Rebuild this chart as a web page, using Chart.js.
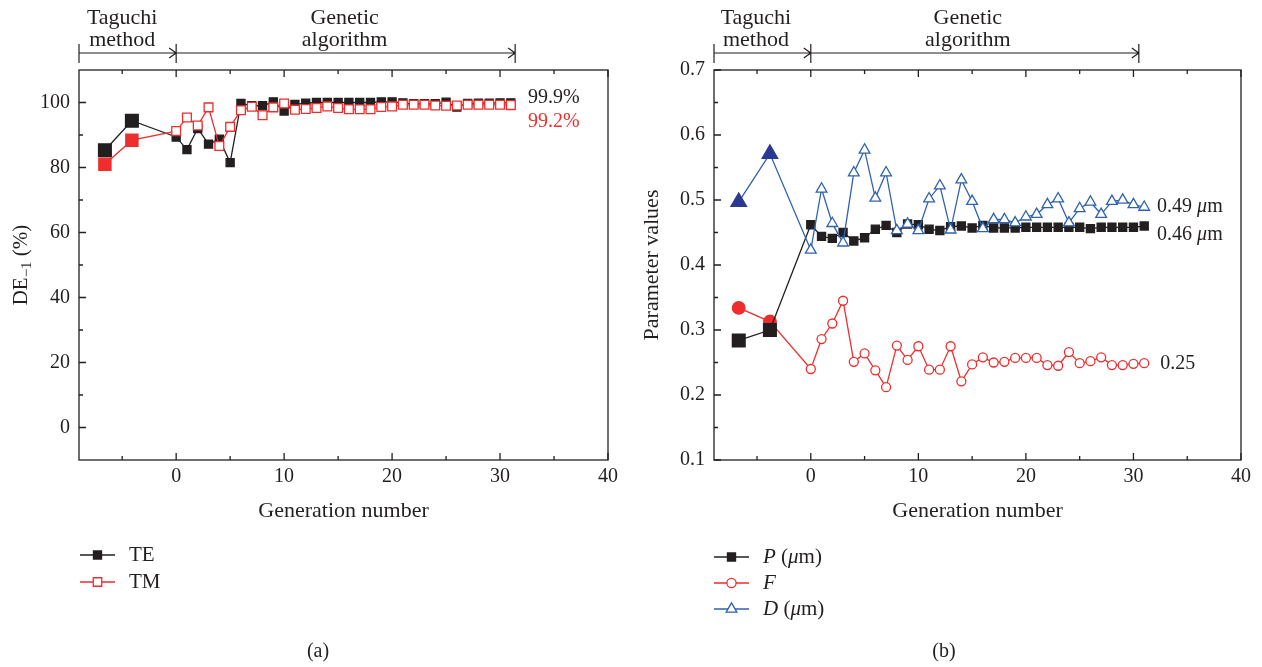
<!DOCTYPE html>
<html><head><meta charset="utf-8">
<script src="https://cdn.jsdelivr.net/npm/chart.js@4.4.1/dist/chart.umd.min.js"></script>
<style>
html,body{margin:0;padding:0;background:#fff;}
#wrap{position:relative;width:1262px;height:667px;overflow:hidden;}
canvas{position:absolute;top:0;}
#c1{left:0;} #c2{left:631px;}
</style></head><body>
<div id="wrap"><canvas id="c1" width="631" height="667"></canvas><canvas id="c2" width="631" height="667"></canvas></div>
<script>
// ---------- data ----------
const taguchiGenA = [-6.6, -4.1];
const taguchiGenB = [-6.7, -3.8];
const generations = [0,1,2,3,4,5,6,7,8,9,10,11,12,13,14,15,16,17,18,19,20,21,22,23,24,25,26,27,28,29,30,31];
const teValues = [85.3, 94.4, 89.4, 85.5, 92.0, 87.2, 88.7, 81.5, 99.7, 99.0, 99.0, 100.2, 97.4, 99.4, 99.8, 100.0, 100.0, 100.0, 100.0, 100.0, 100.0, 100.2, 100.2, 99.9, 99.6, 99.6, 99.6, 100.1, 98.6, 99.7, 99.8, 99.8, 99.9, 99.9];
const tmValues = [81.0, 88.4, 91.2, 95.4, 92.9, 98.5, 86.6, 92.5, 97.6, 98.7, 96.1, 98.5, 99.7, 97.8, 98.0, 98.3, 98.8, 98.3, 97.9, 97.9, 97.9, 98.6, 98.8, 99.3, 99.3, 99.3, 99.1, 99.0, 99.1, 99.3, 99.3, 99.3, 99.3, 99.2];
const pValues = [0.284, 0.300, 0.462, 0.444, 0.441, 0.450, 0.437, 0.442, 0.455, 0.461, 0.450, 0.463, 0.462, 0.455, 0.453, 0.459, 0.460, 0.457, 0.461, 0.457, 0.457, 0.457, 0.458, 0.458, 0.458, 0.458, 0.458, 0.458, 0.456, 0.458, 0.458, 0.458, 0.458, 0.460];
const fValues = [0.334, 0.313, 0.240, 0.286, 0.310, 0.345, 0.251, 0.264, 0.238, 0.212, 0.276, 0.254, 0.275, 0.239, 0.239, 0.275, 0.221, 0.247, 0.258, 0.250, 0.251, 0.257, 0.257, 0.257, 0.246, 0.245, 0.266, 0.249, 0.252, 0.258, 0.246, 0.246, 0.248, 0.249];
const dValues = [0.497, 0.571, 0.423, 0.517, 0.464, 0.434, 0.542, 0.577, 0.503, 0.542, 0.453, 0.463, 0.453, 0.502, 0.522, 0.454, 0.531, 0.498, 0.456, 0.470, 0.470, 0.465, 0.474, 0.478, 0.493, 0.502, 0.465, 0.487, 0.497, 0.478, 0.498, 0.500, 0.493, 0.489];
const xTickValues = [0, 10, 20, 30, 40];
const xMinorTicks = [-5, 5, 15, 25, 35];
const yTickValuesA = [0, 20, 40, 60, 80, 100];
const yMinorTicksA = [10, 30, 50, 70, 90];
const yTickValuesB = [0.1, 0.2, 0.3, 0.4, 0.5, 0.6, 0.7];
const yMinorTicksB = [0.15, 0.25, 0.35, 0.45, 0.55, 0.65];

// ---------- style ----------
const INK = '#231f20', RED = '#ee2d2d', BLUE = '#2f62b0', NAVY = '#2b3990';
const FONT = '"Liberation Serif", "DejaVu Serif", serif';
const DECO = {};

function pts(xs, ys){ return ys.map((v,i)=>({x: xs[i], y: v})); }

function marker(ctx, style, x, y, r, fill, stroke, lw){
  ctx.save(); ctx.fillStyle = fill; ctx.strokeStyle = stroke; ctx.lineWidth = lw;
  ctx.beginPath();
  if (style === 'rect'){ const s = r*Math.SQRT1_2; ctx.rect(x-s, y-s, 2*s, 2*s); }
  else if (style === 'circle'){ ctx.arc(x, y, r, 0, Math.PI*2); }
  else if (style === 'triangle'){
    for (let k=0;k<3;k++){ const a = k*2*Math.PI/3; const px = x + Math.sin(a)*r, py = y - Math.cos(a)*r; k?ctx.lineTo(px,py):ctx.moveTo(px,py); }
    ctx.closePath();
  }
  ctx.fill(); if (lw>0) ctx.stroke();
  ctx.restore();
}

function runs(ctx, parts, x, y, size){
  let cx = x;
  parts.forEach(([t, it]) => {
    ctx.font = (it ? 'italic ' : '') + size + 'px ' + FONT;
    ctx.fillText(t, cx, y);
    cx += ctx.measureText(t).width;
  });
}

const decoPlugin = {
  id: 'deco',
  beforeDatasetsDraw(chart){
    const cfg = DECO[chart.canvas.id]; if (!cfg) return;
    const {ctx, chartArea: a} = chart; const xs = chart.scales.x, ys = chart.scales.y;
    ctx.save(); ctx.strokeStyle = INK; ctx.lineWidth = 1.3;
    ctx.strokeRect(a.left, a.top, a.right - a.left, a.bottom - a.top);
    ctx.beginPath();
    const tick = (vals, len) => vals.forEach(v => { const p = xs.getPixelForValue(v);
      ctx.moveTo(p, a.bottom); ctx.lineTo(p, a.bottom - len); ctx.moveTo(p, a.top); ctx.lineTo(p, a.top + len); });
    tick(xTickValues, 7); tick(xMinorTicks, 4);
    const ytick = (vals, len) => vals.forEach(v => { const p = ys.getPixelForValue(v); ctx.moveTo(a.left, p); ctx.lineTo(a.left + len, p); });
    ytick(cfg.yMajor, 7); ytick(cfg.yMinor, 4);
    ctx.stroke(); ctx.restore();
  },
  afterDraw(chart){
    const cfg = DECO[chart.canvas.id]; if (!cfg) return;
    const {ctx, chartArea: a} = chart; const xs = chart.scales.x, ys = chart.scales.y;
    ctx.save();
    ctx.fillStyle = INK; ctx.strokeStyle = INK; ctx.textBaseline = 'middle';
    ctx.font = '22px ' + FONT; ctx.textAlign = 'center';
    const tx = xs.getPixelForValue(cfg.taguchiCenter), gx = xs.getPixelForValue(cfg.geneticCenter);
    ctx.fillText('Taguchi', tx, 18); ctx.fillText('method', tx, 40);
    ctx.fillText('Genetic', gx, 18); ctx.fillText('algorithm', gx, 40);
    const ay = 53; ctx.lineWidth = 1.2; ctx.beginPath();
    cfg.arrowStops.forEach(v => { const p = xs.getPixelForValue(v); ctx.moveTo(p, ay - 9); ctx.lineTo(p, ay + 10); });
    const p0 = xs.getPixelForValue(cfg.arrowStops[0]);
    const pN = xs.getPixelForValue(cfg.arrowStops[cfg.arrowStops.length - 1]);
    ctx.moveTo(p0, ay); ctx.lineTo(pN, ay);
    cfg.arrowStops.slice(1).forEach(v => { const p = xs.getPixelForValue(v); ctx.moveTo(p - 7, ay - 5); ctx.lineTo(p, ay); ctx.lineTo(p - 7, ay + 5); });
    ctx.stroke();
    ctx.font = '22px ' + FONT; ctx.textAlign = 'center';
    ctx.fillText('Generation number', (a.left + a.right) / 2, 511);
    ctx.save(); ctx.translate(21, (a.top + a.bottom) / 2); ctx.rotate(-Math.PI / 2);
    if (cfg.yTitleSub){
      ctx.font = '21px ' + FONT;
      const w1 = ctx.measureText('DE').width; ctx.font = '15px ' + FONT; const w2 = ctx.measureText('\u22121').width;
      ctx.font = '21px ' + FONT; const w3 = ctx.measureText(' (%)').width;
      let sx = -(w1 + w2 + w3) / 2; ctx.textAlign = 'left';
      ctx.fillText('DE', sx, 0); sx += w1;
      ctx.font = '15px ' + FONT; ctx.fillText('\u22121', sx, 6); sx += w2;
      ctx.font = '21px ' + FONT; ctx.fillText(' (%)', sx, 0);
    } else {
      ctx.font = '22px ' + FONT; ctx.textAlign = 'center'; ctx.fillText(cfg.yTitle, 0, 0);
    }
    ctx.restore();
    ctx.textAlign = 'left';
    cfg.endLabels.forEach(l => {
      ctx.fillStyle = l.color;
      runs(ctx, l.parts, xs.getPixelForValue(l.x), ys.getPixelForValue(l.y), 20);
    });
    const ds = chart.data.datasets;
    cfg.legend.forEach((item, i) => {
      const d = ds[item.ds]; const y = cfg.legendY[i]; const lx = cfg.legendX;
      ctx.strokeStyle = d.borderColor; ctx.lineWidth = 1.3;
      ctx.beginPath(); ctx.moveTo(lx, y); ctx.lineTo(lx + 35, y); ctx.stroke();
      marker(ctx, d.pointStyle, lx + 17.5, y, item.r, item.fill, d.borderColor, 1.3);
      ctx.fillStyle = INK; ctx.textAlign = 'left';
      runs(ctx, item.parts, lx + 49, y, 21);
    });
    ctx.fillStyle = INK; ctx.textAlign = 'center'; ctx.font = '20px ' + FONT;
    ctx.fillText(cfg.panel, cfg.panelX, 652);
    ctx.restore();
  }
};

function makeChart(id, datasets, yMin, yMax, yTicks, yFmt, yWidth, padRight, deco){
  DECO[id] = deco;
  return new Chart(document.getElementById(id), {
    type: 'scatter',
    data: { datasets },
    options: {
      responsive: false, animation: false, devicePixelRatio: 1,
      layout: { padding: { top: 70, left: 0, right: padRight, bottom: 147 } },
      plugins: { legend: { display: false }, tooltip: { enabled: false } },
      elements: { line: { tension: 0, borderWidth: 1.3 } },
      scales: {
        x: { type: 'linear', min: -9, max: 40,
             grid: { display: false, drawTicks: false }, border: { display: false },
             ticks: { color: INK, font: { family: FONT, size: 20 }, padding: 5, maxRotation: 0, autoSkip: false },
             afterBuildTicks: s => { s.ticks = xTickValues.map(v => ({ value: v })); },
             afterFit: s => { s.height = 60; } },
        y: { type: 'linear', min: yMin, max: yMax,
             grid: { display: false, drawTicks: false }, border: { display: false },
             ticks: { color: INK, font: { family: FONT, size: 20 }, padding: 9, autoSkip: false, callback: yFmt },
             afterBuildTicks: s => { s.ticks = yTicks.map(v => ({ value: v })); },
             afterFit: s => { s.width = yWidth; } }
      }
    },
    plugins: [decoPlugin]
  });
}

function series(xs, ys, color, style, rBig, rSmall, bigFill, smallFill, order){
  return {
    data: pts(xs, ys), showLine: true, borderColor: color, borderWidth: 1.3, order,
    pointStyle: style,
    pointRadius: c => c.dataIndex < 2 ? rBig : rSmall,
    pointBackgroundColor: c => c.dataIndex < 2 ? bigFill : smallFill,
    pointBorderColor: c => c.dataIndex < 2 ? bigFill : color,
    pointBorderWidth: 1.3
  };
}

const xA = taguchiGenA.concat(generations);
const xB = taguchiGenB.concat(generations);

const cfgA = {
  yMajor: yTickValuesA, yMinor: yMinorTicksA, taguchiCenter: -5.0, geneticCenter: 15.6, arrowStops: [-9, 0, 31.4],
  yTitleSub: true,
  endLabels: [ { x: 32.6, y: 101.5, color: INK, parts: [['99.9%', false]] },
               { x: 32.6, y: 94.2, color: RED, parts: [['99.2%', false]] } ],
  legendX: 80, legendY: [555, 582],
  legend: [ { ds: 0, r: 5.7, fill: INK, parts: [['TE', false]] }, { ds: 1, r: 6, fill: '#fff', parts: [['TM', false]] } ],
  panel: '(a)', panelX: 318
};
makeChart('c1', [
  series(xA, teValues, INK, 'rect', 9, 5.7, INK, INK, 1),
  series(xA, tmValues, RED, 'rect', 8.6, 6.2, RED, '#fff', 0)
], -10, 110, yTickValuesA, v => String(v), 79, 23, cfgA);

const cfgB = {
  yMajor: yTickValuesB, yMinor: yMinorTicksB, taguchiCenter: -5.1, geneticCenter: 14.6, arrowStops: [-9, 0, 30.5],
  yTitleSub: false, yTitle: 'Parameter values',
  endLabels: [ { x: 32.2, y: 0.489, color: INK, parts: [['0.49 ', false], ['\u03bc', true], ['m', false]] },
               { x: 32.2, y: 0.447, color: INK, parts: [['0.46 ', false], ['\u03bc', true], ['m', false]] },
               { x: 32.5, y: 0.248, color: INK, parts: [['0.25', false]] } ],
  legendX: 714 - 631, legendY: [557, 583, 609],
  legend: [ { ds: 0, r: 5.7, fill: INK, parts: [['P', true], [' (', false], ['\u03bc', true], ['m)', false]] },
            { ds: 1, r: 4.6, fill: '#fff', parts: [['F', true]] },
            { ds: 2, r: 6.2, fill: '#fff', parts: [['D', true], [' (', false], ['\u03bc', true], ['m)', false]] } ],
  panel: '(b)', panelX: 313
};
makeChart('c2', [
  series(xB, pValues, INK, 'rect', 9, 5.7, INK, INK, 1),
  series(xB, fValues, RED, 'circle', 6.3, 4.5, RED, '#fff', 2),
  series(xB, dValues, BLUE, 'triangle', 9, 6.2, NAVY, '#fff', 0)
], 0.1, 0.7, yTickValuesB, v => v.toFixed(1), 83, 21, cfgB);
</script>
</body></html>
